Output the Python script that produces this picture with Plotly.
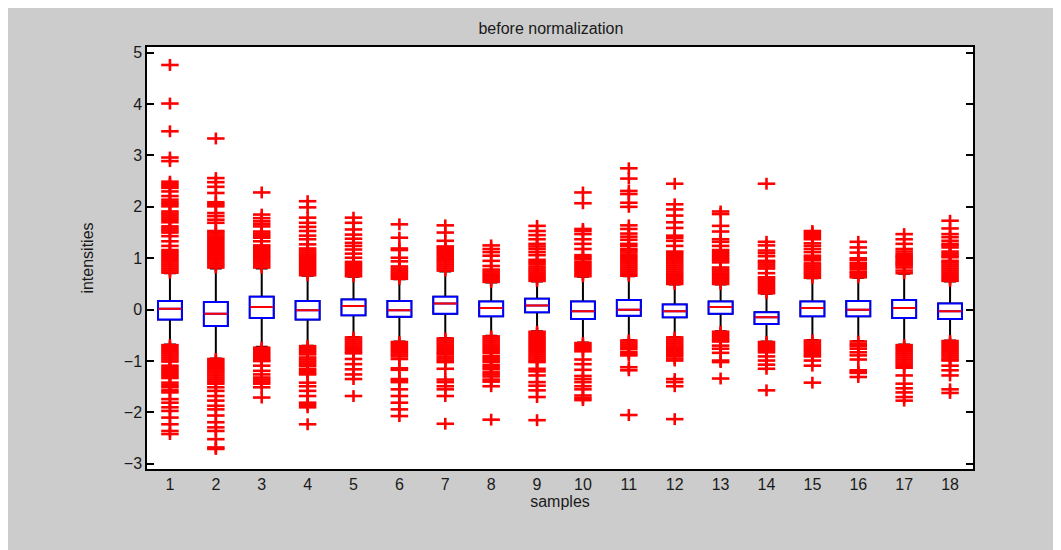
import plotly.graph_objects as go

title = "before normalization"
x_title = "samples"
y_title = "intensities"

samples = list(range(1, 19))
sample_labels = [str(s) for s in samples]

q1 = [-0.19, -0.32, -0.16, -0.19, -0.11, -0.14, -0.08, -0.13, -0.05,
      -0.18, -0.12, -0.15, -0.08, -0.28, -0.13, -0.13, -0.16, -0.18]
median = [0.02, -0.08, 0.05, -0.01, 0.07, -0.01, 0.12, 0.03, 0.08,
          -0.03, 0.00, -0.03, 0.05, -0.15, 0.03, 0.00, 0.03, -0.03]
q3 = [0.17, 0.15, 0.25, 0.17, 0.20, 0.17, 0.25, 0.16, 0.21,
      0.16, 0.19, 0.10, 0.16, -0.05, 0.16, 0.17, 0.19, 0.12]
lower_whisker = [-0.68, -0.95, -0.72, -0.70, -0.53, -0.62, -0.55, -0.51, -0.42,
                 -0.64, -0.59, -0.53, -0.42, -0.62, -0.59, -0.61, -0.68, -0.60]
upper_whisker = [0.71, 0.80, 0.80, 0.66, 0.64, 0.59, 0.74, 0.53, 0.55,
                 0.64, 0.65, 0.49, 0.49, 0.31, 0.61, 0.62, 0.70, 0.55]

outliers_high = [
    [0.72, 0.76, 0.80, 0.84, 0.88, 0.92, 0.96, 1.00, 1.04, 1.08, 1.12, 1.16, 1.24, 1.33, 1.43,
     1.50, 1.54, 1.58, 1.62, 1.70, 1.75, 1.79, 1.83, 1.87, 1.91, 2.01, 2.05, 2.09, 2.14, 2.21,
     2.30, 2.37, 2.41, 2.45, 2.49, 2.89, 2.96, 3.47, 4.01, 4.76],
    [0.82, 0.86, 0.90, 0.94, 0.98, 1.02, 1.06, 1.10, 1.14, 1.18, 1.22, 1.26, 1.30, 1.34, 1.38,
     1.42, 1.46, 1.50, 1.53, 1.69, 1.75, 1.82, 1.88, 2.01, 2.05, 2.09, 2.27, 2.39, 2.48, 2.56, 3.33],
    [0.82, 0.86, 0.90, 0.94, 0.98, 1.02, 1.06, 1.10, 1.14, 1.18, 1.22, 1.25, 1.33, 1.40, 1.44,
     1.48, 1.52, 1.62, 1.67, 1.72, 1.78, 1.85, 2.28],
    [0.67, 0.71, 0.75, 0.79, 0.83, 0.87, 0.91, 0.95, 0.99, 1.03, 1.07, 1.11, 1.15, 1.19, 1.27,
     1.37, 1.44, 1.53, 1.61, 1.69, 1.79, 1.99, 2.11],
    [0.65, 0.69, 0.73, 0.77, 0.81, 0.85, 0.89, 0.93, 1.01, 1.09, 1.17, 1.24, 1.30, 1.38, 1.46,
     1.56, 1.69, 1.79],
    [0.60, 0.64, 0.68, 0.72, 0.76, 0.80, 0.84, 0.94, 1.01, 1.16, 1.19, 1.40, 1.66],
    [0.76, 0.80, 0.84, 0.88, 0.92, 0.96, 1.00, 1.04, 1.08, 1.12, 1.16, 1.20, 1.23, 1.34, 1.50, 1.64],
    [0.54, 0.58, 0.62, 0.66, 0.70, 0.74, 0.78, 0.85, 0.95, 1.05, 1.12, 1.18, 1.25],
    [0.56, 0.60, 0.64, 0.68, 0.72, 0.76, 0.80, 0.84, 0.89, 0.93, 0.97, 1.06, 1.12, 1.18, 1.23,
     1.28, 1.37, 1.45, 1.53, 1.63],
    [0.65, 0.69, 0.73, 0.77, 0.81, 0.85, 0.89, 0.93, 0.98, 1.02, 1.06, 1.18, 1.28, 1.37, 1.47,
     1.53, 1.57, 2.07, 2.28],
    [0.66, 0.70, 0.74, 0.78, 0.82, 0.86, 0.90, 0.94, 0.98, 1.02, 1.06, 1.11, 1.15, 1.18, 1.24,
     1.28, 1.36, 1.42, 1.48, 1.57, 1.64, 2.00, 2.08, 2.25, 2.31, 2.55, 2.75],
    [0.50, 0.54, 0.58, 0.62, 0.66, 0.70, 0.74, 0.78, 0.82, 0.86, 0.90, 0.94, 0.98, 1.02, 1.06,
     1.10, 1.13, 1.24, 1.34, 1.40, 1.44, 1.59, 1.70, 1.83, 1.95, 2.05, 2.45],
    [0.50, 0.54, 0.58, 0.62, 0.66, 0.70, 0.74, 0.78, 0.82, 0.92, 0.96, 1.00, 1.04, 1.08, 1.12,
     1.16, 1.24, 1.32, 1.37, 1.52, 1.63, 1.86, 1.91],
    [0.32, 0.36, 0.40, 0.44, 0.48, 0.52, 0.56, 0.60, 0.63, 0.71, 0.80, 0.84, 0.88, 0.92, 0.95,
     1.04, 1.10, 1.15, 1.25, 1.32, 2.45],
    [0.62, 0.66, 0.70, 0.74, 0.78, 0.82, 0.86, 0.90, 0.96, 1.01, 1.05, 1.12, 1.18, 1.24, 1.29,
     1.37, 1.41, 1.45, 1.49, 1.53],
    [0.63, 0.67, 0.71, 0.74, 0.79, 0.83, 0.87, 0.91, 0.97, 1.00, 1.11, 1.21, 1.32],
    [0.71, 0.76, 0.82, 0.86, 0.89, 0.92, 0.95, 0.99, 1.02, 1.05, 1.08, 1.13, 1.18, 1.28, 1.37, 1.47],
    [0.56, 0.60, 0.64, 0.68, 0.72, 0.76, 0.80, 0.84, 0.88, 0.92, 0.95, 1.02, 1.05, 1.09, 1.13,
     1.21, 1.25, 1.28, 1.34, 1.41, 1.47, 1.58, 1.73],
]

outliers_low = [
    [-0.69, -0.73, -0.77, -0.81, -0.85, -0.89, -0.93, -0.97, -1.01, -1.09, -1.13, -1.17, -1.21,
     -1.25, -1.29, -1.33, -1.42, -1.47, -1.51, -1.57, -1.61, -1.74, -1.81, -1.90, -1.97, -2.10,
     -2.23, -2.36, -2.42],
    [-0.96, -1.00, -1.04, -1.08, -1.12, -1.16, -1.20, -1.24, -1.28, -1.32, -1.36, -1.40, -1.44,
     -1.51, -1.58, -1.68, -1.77, -1.87, -1.94, -2.06, -2.19, -2.29, -2.36, -2.52, -2.68, -2.71],
    [-0.74, -0.78, -0.82, -0.86, -0.90, -0.94, -0.98, -1.00, -1.09, -1.19, -1.26, -1.32, -1.36,
     -1.40, -1.44, -1.51, -1.71],
    [-0.71, -0.75, -0.79, -0.83, -0.87, -0.93, -0.97, -1.01, -1.05, -1.09, -1.15, -1.19, -1.23,
     -1.26, -1.42, -1.49, -1.58, -1.68, -1.81, -1.85, -1.90, -2.23],
    [-0.54, -0.58, -0.62, -0.66, -0.70, -0.74, -0.78, -0.82, -0.85, -0.96, -1.06, -1.16, -1.26,
     -1.35, -1.68],
    [-0.63, -0.67, -0.71, -0.75, -0.79, -0.83, -0.87, -0.91, -0.96, -1.14, -1.17, -1.35, -1.38,
     -1.41, -1.55, -1.68, -1.81, -1.94, -2.07],
    [-0.56, -0.60, -0.64, -0.68, -0.72, -0.76, -0.80, -0.84, -0.86, -0.91, -0.95, -0.99, -1.02,
     -1.15, -1.36, -1.41, -1.49, -1.55, -1.68, -2.22],
    [-0.52, -0.56, -0.60, -0.64, -0.68, -0.72, -0.76, -0.80, -0.84, -0.90, -0.94, -0.98, -1.02,
     -1.08, -1.12, -1.16, -1.22, -1.26, -1.30, -1.36, -1.40, -1.49, -2.14],
    [-0.43, -0.47, -0.51, -0.55, -0.59, -0.63, -0.67, -0.71, -0.75, -0.79, -0.83, -0.87, -0.91,
     -0.95, -0.99, -1.02, -1.15, -1.20, -1.28, -1.41, -1.48, -1.57, -1.70, -2.15],
    [-0.65, -0.69, -0.73, -0.77, -0.81, -0.97, -1.06, -1.17, -1.29, -1.35, -1.41, -1.49, -1.55,
     -1.67, -1.72, -1.76],
    [-0.60, -0.64, -0.68, -0.72, -0.76, -0.82, -0.86, -0.89, -1.12, -1.18, -2.05],
    [-0.54, -0.58, -0.62, -0.66, -0.70, -0.74, -0.78, -0.82, -0.86, -0.90, -0.95, -0.99, -1.35,
     -1.41, -1.49, -2.13],
    [-0.43, -0.47, -0.51, -0.55, -0.59, -0.62, -0.70, -0.76, -0.84, -0.99, -1.02, -1.34],
    [-0.63, -0.67, -0.71, -0.75, -0.79, -0.83, -0.91, -0.99, -1.07, -1.15, -1.57],
    [-0.60, -0.64, -0.68, -0.72, -0.76, -0.80, -0.84, -0.88, -0.91, -0.99, -1.09, -1.42],
    [-0.62, -0.67, -0.71, -0.76, -0.83, -0.89, -0.97, -1.18, -1.21, -1.23, -1.31],
    [-0.69, -0.73, -0.77, -0.81, -0.85, -0.89, -0.93, -0.97, -1.01, -1.05, -1.09, -1.13, -1.28,
     -1.44, -1.53, -1.61, -1.70, -1.77],
    [-0.61, -0.65, -0.69, -0.73, -0.77, -0.81, -0.85, -0.89, -0.93, -0.97, -0.99, -1.09, -1.18,
     -1.28, -1.55, -1.62],
]

FONT = "Liberation Sans, Arial, sans-serif"
BOX_W = 0.52

fig = go.Figure()

# whiskers (black) + caps
fig.add_trace(go.Box(
    x=samples, q1=q1, median=median, q3=q3,
    lowerfence=lower_whisker, upperfence=upper_whisker,
    width=BOX_W, whiskerwidth=0.5, boxpoints=False,
    line=dict(color="#000000", width=2), fillcolor="#ffffff",
    hoverinfo="skip", showlegend=False,
))
# blue boxes
fig.add_trace(go.Box(
    x=samples, q1=q1, median=median, q3=q3,
    lowerfence=q1, upperfence=q3,
    width=BOX_W, whiskerwidth=0, boxpoints=False,
    line=dict(color="#0000ff", width=2), fillcolor="#ffffff",
    hoverinfo="skip", showlegend=False,
))
# red medians
fig.add_trace(go.Box(
    x=samples, q1=median, median=median, q3=median,
    lowerfence=median, upperfence=median,
    width=BOX_W * 0.96, whiskerwidth=0, boxpoints=False,
    line=dict(color="#ff0000", width=2), fillcolor="rgba(0,0,0,0)",
    hoverinfo="skip", showlegend=False,
))

ox, oy = [], []
for s, hi, lo in zip(samples, outliers_high, outliers_low):
    for v in hi + lo:
        ox.append(s)
        oy.append(v)

for sym, size in (("line-ew", 12.5), ("line-ns", 8.5)):
    fig.add_trace(go.Scatter(
        x=ox, y=oy, mode="markers",
        marker=dict(symbol=sym, size=size, color="#ff0000",
                    line=dict(color="#ff0000", width=2.6)),
        hoverinfo="skip", showlegend=False,
    ))

fig.update_layout(
    width=1053, height=542,
    margin=dict(l=139, r=88, t=39, b=81),
    paper_bgcolor="#cccccc", plot_bgcolor="#ffffff",
    font=dict(family=FONT, size=16, color="#1a1a1a"),
    title=dict(text=title, x=0.489, xref="paper", xanchor="center",
               y=1, yref="paper", yanchor="bottom", pad=dict(b=13),
               font=dict(family=FONT, size=16, color="#1a1a1a")),
    boxmode="overlay",
    xaxis=dict(
        range=[0.5, 18.5], tickmode="array", tickvals=samples, ticktext=sample_labels,
        showgrid=False, zeroline=False, showline=True, linecolor="#000000", linewidth=1.5,
        mirror=True, ticks="", tickfont=dict(size=16),
        title=dict(text=x_title, standoff=1, font=dict(size=16)),
    ),
    yaxis=dict(
        range=[-3.10, 5.11], tickmode="array", tickvals=[-3, -2, -1, 0, 1, 2, 3, 4, 5],
        showgrid=False, zeroline=False, showline=True, linecolor="#000000", linewidth=1.5,
        mirror="ticks", ticks="inside", ticklen=7, tickwidth=1.5, tickcolor="#000000",
        tickfont=dict(size=16),
        title=dict(text=y_title, standoff=26, font=dict(size=16)),
    ),
)

fig.write_html("out.html")
